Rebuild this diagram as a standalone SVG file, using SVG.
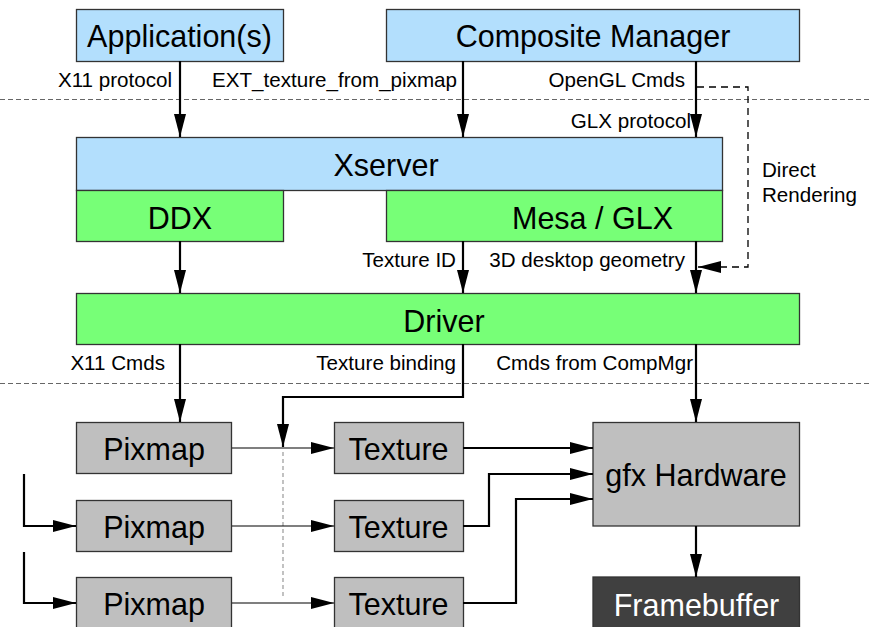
<svg xmlns="http://www.w3.org/2000/svg" width="872" height="627" viewBox="0 0 872 627">
  <style>
    .box { stroke: #333333; stroke-width: 1.3; }
    .blue { fill: #b3dffd; }
    .green { fill: #77ff77; }
    .gray { fill: #bfbfbf; }
    .dark { fill: #404040; }
    .big { font-family: "Liberation Sans", Arial, sans-serif; font-size: 30.5px; fill: #000; text-anchor: middle; }
    .big.white { fill: #ffffff; }
    .lbl { font-family: "Liberation Sans", Arial, sans-serif; font-size: 20.6px; fill: #000; }
    .end { text-anchor: end; }
    .sep { stroke: #666666; stroke-width: 1; stroke-dasharray: 5 3; fill: none; }
    .thick { stroke: #000; stroke-width: 2.2; fill: none; }
    .thin { stroke: #000; stroke-width: 1.2; fill: none; }
    .direct { stroke: #000; stroke-width: 1.3; fill: none; stroke-dasharray: 7 5; }
    .guide { stroke: #999999; stroke-width: 1.2; fill: none; stroke-dasharray: 4 3; }
  </style>
  <defs>
    <marker id="head" markerUnits="userSpaceOnUse" markerWidth="24" markerHeight="12" refX="23" refY="6" orient="auto" overflow="visible">
      <path d="M0,0 L23,6 L0,12 Z" fill="#000"/>
    </marker>
  </defs>

  <rect width="872" height="627" fill="#ffffff"/>

  <!-- layer separators -->
  <g id="separators">
    <line class="sep" x1="0" y1="99.5" x2="872" y2="99.5"/>
    <line class="sep" x1="0" y1="383.5" x2="872" y2="383.5"/>
  </g>

  <g id="applications">
    <rect class="box blue" x="76.5" y="9.5" width="207" height="52"/>
    <text class="big" x="179.5" y="47">Application(s)</text>
  </g>
  <g id="composite-manager">
    <rect class="box blue" x="386.5" y="9.5" width="413" height="52"/>
    <text class="big" x="593" y="47">Composite Manager</text>
  </g>
  <g id="xserver">
    <rect class="box blue" x="76.5" y="137.5" width="646" height="53"/>
    <text class="big" x="386" y="176">Xserver</text>
  </g>
  <g id="ddx">
    <rect class="box green" x="76.5" y="190.5" width="207" height="51"/>
    <text class="big" x="180" y="228.5">DDX</text>
  </g>
  <g id="mesa-glx">
    <rect class="box green" x="386.5" y="190.5" width="336" height="51"/>
    <text class="big" x="592.5" y="228.5">Mesa / GLX</text>
  </g>
  <g id="driver">
    <rect class="box green" x="76.5" y="293.5" width="723" height="51"/>
    <text class="big" x="444" y="331.5">Driver</text>
  </g>

  <g id="pixmap-1">
    <rect class="box gray" x="76.5" y="422.5" width="155" height="51"/>
    <text class="big" x="154" y="460">Pixmap</text>
  </g>
  <g id="pixmap-2">
    <rect class="box gray" x="76.5" y="500.5" width="155" height="51"/>
    <text class="big" x="154" y="537.5">Pixmap</text>
  </g>
  <g id="pixmap-3">
    <rect class="box gray" x="76.5" y="577.5" width="155" height="52"/>
    <text class="big" x="154" y="615">Pixmap</text>
  </g>
  <g id="texture-1">
    <rect class="box gray" x="334.5" y="422.5" width="129" height="51"/>
    <text class="big" x="398.5" y="460">Texture</text>
  </g>
  <g id="texture-2">
    <rect class="box gray" x="334.5" y="500.5" width="129" height="51"/>
    <text class="big" x="398.5" y="537.5">Texture</text>
  </g>
  <g id="texture-3">
    <rect class="box gray" x="334.5" y="577.5" width="129" height="52"/>
    <text class="big" x="398.5" y="615">Texture</text>
  </g>
  <g id="gfx-hardware">
    <rect class="box gray" x="593" y="422.5" width="206.5" height="103.5"/>
    <text class="big" x="696" y="486">gfx Hardware</text>
  </g>
  <g id="framebuffer">
    <rect class="box dark" x="593" y="577" width="206.5" height="60"/>
    <text class="big white" x="696.5" y="615.5">Framebuffer</text>
  </g>

  <g id="connectors">
    <!-- clients to X server -->
    <path class="thick" d="M180,61 V137" marker-end="url(#head)"/>
    <path class="thick" d="M463,61 V137" marker-end="url(#head)"/>
    <path class="thick" d="M696,61 V137" marker-end="url(#head)"/>
    <!-- direct rendering bypass -->
    <path class="direct" d="M697,87 H748 V267 H698" marker-end="url(#head)"/>
    <!-- X server to driver -->
    <path class="thick" d="M180,241 V293" marker-end="url(#head)"/>
    <path class="thick" d="M463,241 V293" marker-end="url(#head)"/>
    <path class="thick" d="M696,241 V293" marker-end="url(#head)"/>
    <!-- driver to hardware objects -->
    <path class="thick" d="M180,344 V422" marker-end="url(#head)"/>
    <path class="thick" d="M463,344 V397 H283 V447" marker-end="url(#head)"/>
    <path class="thick" d="M696,344 V422" marker-end="url(#head)"/>
    <path class="guide" d="M283,452 V598"/>
    <!-- pixmaps to textures -->
    <path class="thin" d="M232,448 H334" marker-end="url(#head)"/>
    <path class="thin" d="M232,526 H334" marker-end="url(#head)"/>
    <path class="thin" d="M232,603 H334" marker-end="url(#head)"/>
    <!-- other pixmaps -->
    <path class="thick" d="M24,474 V526 H76" marker-end="url(#head)"/>
    <path class="thick" d="M24,552 V603 H76" marker-end="url(#head)"/>
    <!-- textures to hardware -->
    <path class="thick" d="M463,448 H593" marker-end="url(#head)"/>
    <path class="thick" d="M463,526 H489 V474 H593" marker-end="url(#head)"/>
    <path class="thick" d="M463,603 H516 V499 H593" marker-end="url(#head)"/>
    <!-- hardware to framebuffer -->
    <path class="thick" d="M696,526 V577" marker-end="url(#head)"/>
  </g>

  <g id="labels">
    <text class="lbl end" x="172" y="87">X11 protocol</text>
    <text class="lbl end" x="457" y="87">EXT_texture_from_pixmap</text>
    <text class="lbl end" x="685" y="87">OpenGL Cmds</text>
    <text class="lbl end" x="691" y="128">GLX protocol</text>
    <text class="lbl" x="762" y="177">Direct</text>
    <text class="lbl" x="762" y="202">Rendering</text>
    <text class="lbl end" x="456" y="267">Texture ID</text>
    <text class="lbl end" x="685" y="267">3D desktop geometry</text>
    <text class="lbl end" x="165" y="370">X11 Cmds</text>
    <text class="lbl end" x="456" y="370">Texture binding</text>
    <text class="lbl end" x="693" y="370">Cmds from CompMgr</text>
  </g>
</svg>
